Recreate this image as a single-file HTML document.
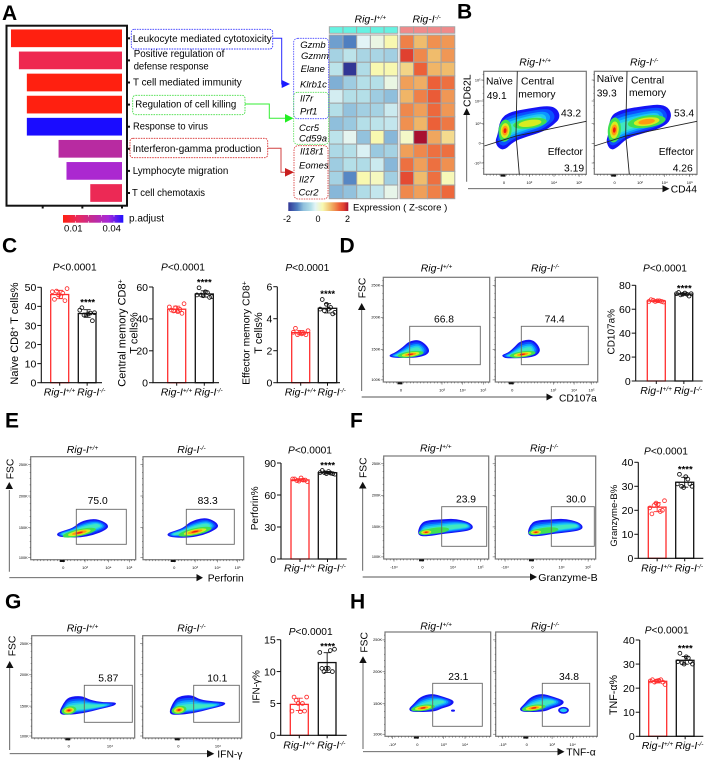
<!DOCTYPE html>
<html lang="en">
<head>
<meta charset="utf-8">
<title>Rig-I CD8 T cell figure</title>
<style>
html,body{margin:0;padding:0;background:#fff;width:705px;height:761px;overflow:hidden}
svg{display:block;filter:blur(.25px)}
text{font-family:"Liberation Sans",Arial,sans-serif;fill:#000}
.it{font-style:italic}
.letter{font-size:21px;font-weight:bold;fill:#000}
.term{font-size:10px}
.gene{font-size:9.5px;font-style:italic}
.flowtitle{font-size:10.5px;font-style:italic}
.gv{font-size:10.3px}
.axl{font-size:10.3px}
.pv{font-size:10.2px}
.yl{font-size:10.7px}
.stars{font-size:9.5px;font-weight:bold;text-anchor:middle}
.fr{fill:none;stroke:#777;stroke-width:1.2}
.gate{fill:none;stroke:#666;stroke-width:.9}
.arr{stroke:#555;stroke-width:.9;fill:none}
.head{fill:#111;stroke:none}
</style>
</head>
<body>
<svg id="figure" xmlns="http://www.w3.org/2000/svg" width="705" height="761" viewBox="0 0 705 761">
<defs>
<linearGradient id="padjGrad" x1="0" x2="1" y1="0" y2="0">
<stop offset="0" stop-color="#ff2010"/><stop offset=".25" stop-color="#e82a60"/><stop offset=".5" stop-color="#c02b98"/><stop offset=".75" stop-color="#a828d8"/><stop offset="1" stop-color="#2010ff"/>
</linearGradient>
<linearGradient id="zGrad" x1="0" x2="1" y1="0" y2="0">
<stop offset="0" stop-color="#313695"/><stop offset=".15" stop-color="#4f7fc0"/><stop offset=".25" stop-color="#8fbfdc"/><stop offset=".375" stop-color="#b4dfe8"/><stop offset=".45" stop-color="#e2f4f6"/><stop offset=".575" stop-color="#f8f8b0"/><stop offset=".7" stop-color="#f0bc6c"/><stop offset=".775" stop-color="#f09050"/><stop offset=".85" stop-color="#ec6038"/><stop offset=".925" stop-color="#e04030"/><stop offset="1" stop-color="#a81030"/>
</linearGradient>
</defs>

<!-- panel letters -->
<text class="letter" x="2" y="20">A</text>
<text class="letter" x="457" y="18.5">B</text>
<text class="letter" x="2" y="252.7">C</text>
<text class="letter" x="339.5" y="252.7">D</text>
<text class="letter" x="5" y="427.3">E</text>
<text class="letter" x="350" y="427.3">F</text>
<text class="letter" x="5" y="608.3">G</text>
<text class="letter" x="350" y="608.3">H</text>

<!-- panel A -->
<rect x="6.5" y="25.7" width="120.5" height="180" fill="none" stroke="#111" stroke-width="2"/>
<g id="enrichBars"></g>
<rect x="131.3" y="29.3" width="141.4" height="19.7" rx="3" fill="none" stroke="#3a3aff" stroke-width=".9" stroke-dasharray="1.6 1"/>
<rect x="132.7" y="95.3" width="112.3" height="19.4" rx="3" fill="none" stroke="#44dd44" stroke-width=".9" stroke-dasharray="1.6 1"/>
<rect x="130" y="138.3" width="137.7" height="19.4" rx="3" fill="none" stroke="#d83030" stroke-width=".9" stroke-dasharray="1.6 1"/>
<text class="term" x="132.7" y="42" textLength="139" lengthAdjust="spacingAndGlyphs">Leukocyte mediated cytotoxicity</text>
<text class="term" x="133.7" y="57" textLength="90.6" lengthAdjust="spacingAndGlyphs">Positive regulation of</text>
<text class="term" x="133.7" y="69.7" textLength="75" lengthAdjust="spacingAndGlyphs">defense response</text>
<text class="term" x="133" y="85.7" textLength="108.7" lengthAdjust="spacingAndGlyphs">T cell mediated immunity</text>
<text class="term" x="135.3" y="107.3" textLength="101" lengthAdjust="spacingAndGlyphs">Regulation of cell killing</text>
<text class="term" x="133" y="129.7" textLength="75" lengthAdjust="spacingAndGlyphs">Response to virus</text>
<text class="term" x="132.7" y="152" textLength="128.6" lengthAdjust="spacingAndGlyphs">Interferon-gamma production</text>
<text class="term" x="132.7" y="174" textLength="95.6" lengthAdjust="spacingAndGlyphs">Lymphocyte migration</text>
<text class="term" x="132" y="196" textLength="73" lengthAdjust="spacingAndGlyphs">T cell chemotaxis</text>
<polyline points="272.7,38.3 281.7,38.3 281.7,84 285,84" fill="none" stroke="#2a2aff" stroke-width="1"/>
<polygon points="281.7,80 281.7,88 290,84" fill="#1a1aff"/>
<polyline points="245,104 269.3,104 269.3,118.3 286,118.3" fill="none" stroke="#33ee33" stroke-width="1"/>
<polygon points="285,114 285,122.6 293.5,118.3" fill="#22ee22"/>
<polyline points="267.7,148.3 281,148.3 281,172.3 286,172.3" fill="none" stroke="#d04040" stroke-width="1"/>
<polygon points="285,168 285,176.6 294,172.3" fill="#c82020"/>
<rect x="63" y="215" width="60.3" height="7.7" fill="url(#padjGrad)"/>
<g stroke="#fff" stroke-width=".6">
<path d="M75.3 215v1.6M75.3 222.7v-1.6M88.3 215v1.6M88.3 222.7v-1.6M101.7 215v1.6M101.7 222.7v-1.6M114 215v1.6M114 222.7v-1.6"/>
</g>
<text x="129" y="221.6" font-size="10">p.adjust</text>
<text x="73.3" y="231.7" font-size="9.5" text-anchor="middle">0.01</text>
<text x="111.7" y="231.7" font-size="9.5" text-anchor="middle">0.04</text>

<!-- heatmap -->
<text class="flowtitle" x="354.5" y="22.3">Rig-I<tspan dy="-3" font-size="6.5">+/+</tspan></text>
<text class="flowtitle" x="412.5" y="22.3">Rig-I<tspan dy="-3" font-size="6.5">-/-</tspan></text>
<g id="heatmap"></g>
<rect x="293.7" y="38.3" width="35" height="80.4" rx="4" fill="none" stroke="#4040ff" stroke-width=".8" stroke-dasharray="1.5 1"/>
<rect x="293.7" y="92.3" width="35" height="52" rx="4" fill="none" stroke="#55e055" stroke-width=".8" stroke-dasharray="1.5 1"/>
<rect x="294" y="145.7" width="34" height="53.3" rx="4" fill="none" stroke="#d83030" stroke-width=".8" stroke-dasharray="1.5 1"/>
<text class="gene" x="300.3" y="47.8">Gzmb</text>
<text class="gene" x="301" y="59">Gzmm</text>
<text class="gene" x="300.6" y="71.8">Elane</text>
<text class="gene" x="300" y="87.3">Klrb1c</text>
<text class="gene" x="300" y="101.3">Il7r</text>
<text class="gene" x="300" y="114.5">Prf1</text>
<text class="gene" x="299" y="130.8">Ccr5</text>
<text class="gene" x="299" y="141.5">Cd59a</text>
<text class="gene" x="300" y="154.3">Il18r1</text>
<text class="gene" x="299" y="168.3">Eomes</text>
<text class="gene" x="299" y="182.3">Il27</text>
<text class="gene" x="298.5" y="195.3">Ccr2</text>
<rect x="288.3" y="202.3" width="60" height="8.7" fill="url(#zGrad)"/>
<text x="353" y="210.3" font-size="9.6">Expression ( Z-score )</text>
<text x="287" y="222" font-size="9" text-anchor="middle">-2</text>
<text x="318" y="222" font-size="9" text-anchor="middle">0</text>
<text x="347.5" y="222" font-size="9" text-anchor="middle">2</text>

<!-- flow frames -->
<g>
<rect class="fr" x="483.7" y="71.3" width="102.6" height="103"/>
<rect class="fr" x="594.3" y="71.3" width="102.7" height="103"/>
<rect class="fr" x="383.3" y="277.3" width="106.4" height="104.7"/>
<rect class="fr" x="495.3" y="277.3" width="102.4" height="104.7"/>
<rect class="fr" x="30.7" y="456.7" width="105" height="103"/>
<rect class="fr" x="143" y="456.7" width="100.7" height="103"/>
<rect class="fr" x="383.7" y="456" width="105" height="103"/>
<rect class="fr" x="495.3" y="456" width="100.4" height="103"/>
<rect class="fr" x="31.7" y="635.7" width="103" height="102.3"/>
<rect class="fr" x="142.7" y="635.7" width="99" height="102.3"/>
<rect class="fr" x="385" y="632" width="105.7" height="104.3"/>
<rect class="fr" x="495.7" y="632" width="101.6" height="104.3"/>
</g>
<g id="density"></g>
<g id="flowTicks"></g>

<!-- gates -->
<g>
<polyline class="gate" style="stroke:#222" points="517.3,71.3 516,135 519.3,174.3"/>
<polyline class="gate" style="stroke:#222" points="484.3,146 516,136 586.3,121.3"/>
<polyline class="gate" style="stroke:#222" points="627,71.3 625.7,135 629.3,174.3"/>
<polyline class="gate" style="stroke:#222" points="594.3,146 625.7,136 697,121.3"/>
<rect class="gate" x="409.7" y="326.3" width="70.6" height="38.4"/>
<rect class="gate" x="521.3" y="326.3" width="67" height="38.4"/>
<rect class="gate" x="76.3" y="509.3" width="50" height="35"/>
<rect class="gate" x="186.3" y="509.3" width="48" height="35"/>
<rect class="gate" x="441.7" y="506.7" width="45" height="39.6"/>
<rect class="gate" x="551.3" y="506.7" width="43" height="39.6"/>
<rect class="gate" x="84.3" y="685.3" width="48" height="37"/>
<rect class="gate" x="193.7" y="685.3" width="45.6" height="37"/>
<rect class="gate" x="432.7" y="683.3" width="49.6" height="43"/>
<rect class="gate" x="542.3" y="683.3" width="47.4" height="43"/>
</g>

<!-- flow titles -->
<text class="flowtitle" x="519.3" y="65.3">Rig-I<tspan dy="-3" font-size="6.5">+/+</tspan></text>
<text class="flowtitle" x="630" y="65.3">Rig-I<tspan dy="-3" font-size="6.5">-/-</tspan></text>
<text class="flowtitle" x="420.7" y="271.7">Rig-I<tspan dy="-3" font-size="6.5">+/+</tspan></text>
<text class="flowtitle" x="531" y="271.7">Rig-I<tspan dy="-3" font-size="6.5">-/-</tspan></text>
<text class="flowtitle" x="66.7" y="453">Rig-I<tspan dy="-3" font-size="6.5">+/+</tspan></text>
<text class="flowtitle" x="177.3" y="453">Rig-I<tspan dy="-3" font-size="6.5">-/-</tspan></text>
<text class="flowtitle" x="420" y="451.7">Rig-I<tspan dy="-3" font-size="6.5">+/+</tspan></text>
<text class="flowtitle" x="530" y="451.7">Rig-I<tspan dy="-3" font-size="6.5">-/-</tspan></text>
<text class="flowtitle" x="66.7" y="631.7">Rig-I<tspan dy="-3" font-size="6.5">+/+</tspan></text>
<text class="flowtitle" x="177.3" y="631.7">Rig-I<tspan dy="-3" font-size="6.5">-/-</tspan></text>
<text class="flowtitle" x="420.3" y="629.7">Rig-I<tspan dy="-3" font-size="6.5">+/+</tspan></text>
<text class="flowtitle" x="531" y="629.7">Rig-I<tspan dy="-3" font-size="6.5">-/-</tspan></text>

<!-- B gate text -->
<text class="gv" x="486" y="84.3">Naïve</text>
<text class="gv" x="486.7" y="99">49.1</text>
<text class="gv" x="521" y="84.3">Central</text>
<text class="gv" x="518.3" y="97.3">memory</text>
<text class="gv" x="561" y="116.3">43.2</text>
<text class="gv" x="547.7" y="155">Effector</text>
<text class="gv" x="564" y="171.3">3.19</text>
<text class="gv" x="596.7" y="82">Naïve</text>
<text class="gv" x="596.7" y="96.7">39.3</text>
<text class="gv" x="631" y="83.3">Central</text>
<text class="gv" x="629" y="96">memory</text>
<text class="gv" x="674" y="116.3">53.4</text>
<text class="gv" x="658.7" y="155">Effector</text>
<text class="gv" x="672.7" y="171.3">4.26</text>

<!-- gate values -->
<g text-anchor="middle">
<text class="gv" x="444" y="322.7">66.8</text>
<text class="gv" x="554.7" y="322.7">74.4</text>
<text class="gv" x="97.7" y="504">75.0</text>
<text class="gv" x="207.7" y="504">83.3</text>
<text class="gv" x="466" y="502.3">23.9</text>
<text class="gv" x="576" y="502.3">30.0</text>
<text class="gv" x="108.3" y="681.7">5.87</text>
<text class="gv" x="217.3" y="681.7">10.1</text>
<text class="gv" x="458.3" y="680">23.1</text>
<text class="gv" x="569" y="680">34.8</text>
</g>

<!-- flow axis arrows -->
<g>
<path class="arr" d="M466.7 181.7V114M468 188.7H663"/>
<polygon class="head" points="463.2,115 470.2,115 466.7,108"/>
<polygon class="head" points="662.5,185.2 662.5,192.2 669.5,188.7"/>
<path class="arr" d="M361.7 391V308M361.7 397H547"/>
<polygon class="head" points="358,310 365.5,310 361.7,303"/>
<polygon class="head" points="546.5,393.5 546.5,400.5 553,397"/>
<path class="arr" d="M9.3 571.7V490M9.3 577.7H197"/>
<polygon class="head" points="5.5,489 13,489 9.3,482"/>
<polygon class="head" points="196.5,574 196.5,581.3 203,577.7"/>
<path class="arr" d="M362.7 570.7V488M362.7 577H530"/>
<polygon class="head" points="359,488.5 366.5,488.5 362.7,481.7"/>
<polygon class="head" points="530,573.4 530,580.6 537,577"/>
<path class="arr" d="M9.7 750V668M9.7 753.7H207.5"/>
<polygon class="head" points="6,668 13.5,668 9.7,661"/>
<polygon class="head" points="207,750 207,757.4 214.3,753.7"/>
<path class="arr" d="M363 749V663M363 751.7H558"/>
<polygon class="head" points="359.3,663 366.7,663 363,656.3"/>
<polygon class="head" points="557.5,748 557.5,755.4 564.5,751.7"/>
</g>
<text x="470.7" y="90.7" transform="rotate(-90 470.7 90.7)" text-anchor="middle" font-size="10.5">CD62L</text>
<text x="670.7" y="192.7" class="axl">CD44</text>
<text x="365.7" y="288" transform="rotate(-90 365.7 288)" text-anchor="middle" class="axl">FSC</text>
<text x="559" y="401.5" class="axl">CD107a</text>
<text x="13.7" y="469" transform="rotate(-90 13.7 469)" text-anchor="middle" class="axl">FSC</text>
<text x="207.7" y="581.5" class="axl">Perforin</text>
<text x="366.5" y="467.7" transform="rotate(-90 366.5 467.7)" text-anchor="middle" class="axl">FSC</text>
<text x="538.3" y="581" class="axl" textLength="59.4" lengthAdjust="spacingAndGlyphs">Granzyme-B</text>
<text x="15.4" y="646" transform="rotate(-90 15.4 646)" text-anchor="middle" class="axl">FSC</text>
<text x="217.3" y="757.5" class="axl">IFN-γ</text>
<text x="367.7" y="642.3" transform="rotate(-90 367.7 642.3)" text-anchor="middle" class="axl">FSC</text>
<text x="566.3" y="755.5" class="axl">TNF-α</text>

<!-- bar chart annotations -->
<g>
<text class="pv" x="74.7" y="270.7" text-anchor="middle"><tspan class="it">P</tspan>&lt;0.0001</text>
<text class="pv" x="183" y="270.7" text-anchor="middle"><tspan class="it">P</tspan>&lt;0.0001</text>
<text class="pv" x="307.3" y="271" text-anchor="middle"><tspan class="it">P</tspan>&lt;0.0001</text>
<text class="pv" x="665" y="271.7" text-anchor="middle"><tspan class="it">P</tspan>&lt;0.0001</text>
<text class="pv" x="310" y="453.7" text-anchor="middle"><tspan class="it">P</tspan>&lt;0.0001</text>
<text class="pv" x="666" y="454.7" text-anchor="middle"><tspan class="it">P</tspan>&lt;0.0001</text>
<text class="pv" x="310.7" y="635" text-anchor="middle"><tspan class="it">P</tspan>&lt;0.0001</text>
<text class="pv" x="666.7" y="633.3" text-anchor="middle"><tspan class="it">P</tspan>&lt;0.0001</text>

<text class="stars" x="87.7" y="305.4">****</text>
<text class="stars" x="204.3" y="285.4">****</text>
<text class="stars" x="327.7" y="297">****</text>
<text class="stars" x="684.3" y="291.4">****</text>
<text class="stars" x="327.7" y="468.7">****</text>
<text class="stars" x="685.3" y="472.7">****</text>
<text class="stars" x="327.7" y="649.4">****</text>
<text class="stars" x="685.3" y="651.4">****</text>

<text x="18" y="333.5" transform="rotate(-90 18 333.5)" text-anchor="middle" font-size="11">Naïve CD8<tspan dy="-3" font-size="7">+</tspan><tspan dy="3"> T cells%</tspan></text>
<text x="125.4" y="333" transform="rotate(-90 125.4 333)" text-anchor="middle" font-size="11">Central memory CD8<tspan dy="-3" font-size="7">+</tspan></text>
<text x="137.7" y="333" transform="rotate(-90 137.7 333)" text-anchor="middle" font-size="11">T cells%</text>
<text x="249.4" y="333" transform="rotate(-90 249.4 333)" text-anchor="middle" font-size="10.4">Effector memory CD8<tspan dy="-3" font-size="7">+</tspan></text>
<text x="262" y="333" transform="rotate(-90 262 333)" text-anchor="middle" font-size="11">T cells%</text>
<text x="614.7" y="331.7" transform="rotate(-90 614.7 331.7)" text-anchor="middle" font-size="10">CD107a%</text>
<text x="258" y="508.3" transform="rotate(-90 258 508.3)" text-anchor="middle" font-size="10">Perforin%</text>
<text x="617" y="515.7" transform="rotate(-90 617 515.7)" text-anchor="middle" font-size="9.5">Granzyme-B%</text>
<text x="259.7" y="686.7" transform="rotate(-90 259.7 686.7)" text-anchor="middle" font-size="10">IFN-γ%</text>
<text x="617" y="695" transform="rotate(-90 617 695)" text-anchor="middle" font-size="10.7">TNF-α%</text>
</g>
<g id="barCharts"></g>
</svg>

<script>
/* ---------- Panel A data ---------- */
const geneCounts = [14, 13, 12, 12, 12, 8, 7, 4];
const pAdjust = [0.002, 0.0077, 0.002, 0.002, 0.049, 0.028, 0.035, 0.0095];
const geneCountTicks = [10, 5, 0];

/* ---------- Heatmap data ---------- */
const heatGenes = ['Gzmb','Gzmm','Elane','Klrb1c','Il7r','Prf1','Ccr5','Cd59a','Il18r1','Eomes','Il27','Ccr2'];
const heatWT = [
  [-1.2,-1.4,-0.2,-0.05,0.3],
  [-0.7,-0.45,-0.65,-0.65,-0.75],
  [-0.45,-2,-0.55,0.3,0.3],
  [-1.1,-0.8,-0.5,-0.5,-0.05],
  [-0.3,-0.5,-0.5,-0.8,-1.0],
  [-0.5,-0.95,-0.75,-0.7,-0.35],
  [-1.0,-0.85,-0.5,-0.45,-0.4],
  [-0.45,-0.15,-0.95,0.3,-1.05],
  [-0.6,-0.5,-0.25,-0.85,-0.7],
  [-0.8,-0.5,-0.55,-0.35,-1.05],
  [-0.7,-1.35,0.3,0.2,-0.75],
  [-1.05,-0.95,-0.55,-0.4,-0.1]
];
const heatKO = [
  [1.2,0.8,1.1,1.05],
  [1.7,1.15,0.8,1.05],
  [0.6,1.4,0.85,0.8],
  [1.0,0.9,1.4,1.3],
  [0.85,1.2,1.45,1.05],
  [1.15,1.0,1.35,1.05],
  [1.1,0.85,1.4,1.25],
  [0.15,2,0.95,0.55],
  [1.0,1.15,1.3,1.3],
  [1.3,1.0,1.3,1.1],
  [1.6,0.8,1.3,0.25],
  [1.15,1.0,1.2,1.35]
];

/* ---------- Bar chart data ---------- */
const barCategories = ['+/+', '-/-'];
const naiveWT = [47.7,46.9,48,49.3,45.1,43.7,43,46];
const naiveKO = [38,36.5,35.5,36.7,36,39.3,32.5,35.5];
const naiveTicks = [0,10,20,30,40,50];
const centralWT = [47.5,46,45,49.5,44.5,45.5,43.5,47];
const centralKO = [55,56.5,55,54,57,59.5,53.5,54.5];
const centralTicks = [0,20,40,60];
const effectorWT = [3.15,3.1,3,3.25,3.05,3.4,3,3.1];
const effectorKO = [4.6,4.7,4.5,4.4,4.6,5.2,4.3,4.9];
const effectorTicks = [0,2,4,6];
const cd107WT = [66.5,67,67.5,66,67,68,66.5,66.5];
const cd107KO = [73,72.5,72,73,73.5,74,71,72.5];
const cd107Ticks = [0,20,40,60,80];
const perforinWT = [75,74,73.5,72.5,76,75,74,73];
const perforinKO = [81,80.5,81,79.5,82,83,80,80];
const perforinTicks = [0,30,60,90];
const granzymeWT = [21,19.5,22,24,22.5,18.5,20,23];
const granzymeKO = [31,33,30,30,34,35,31,29.5];
const granzymeTicks = [0,10,20,30,40];
const ifnWT = [3.8,5,5.5,6,3.7,6,3.8,5];
const ifnKO = [13,13.3,10,13.5,10.5,10.5,10,10.5];
const ifnTicks = [0,5,10,15];
const tnfWT = [23,23.5,22.5,21.5,23.2,23.5,22.5,23];
const tnfKO = [31,32.5,30.5,30,33,34.5,31,30];
const tnfTicks = [0,10,20,30,40];

/* ---------- Flow density outlines, in plot-percent units ---------- */
const densityB1 = {o:[[13.6,61.8],[15.9,47.2],[24,39.8],[45.1,35.9],[64.6,33],[72.7,37.5],[74.4,45.6],[67.9,52.1],[58.1,58.6],[41.9,63.4],[28.9,68.3],[20.8,76.4],[14.3,74.8],[11,68.3]],s:[[20.8,57.6],[50,48]],h:[[45.1,50.5,17,5,-8,2],[20.8,57.6,6.5,11,5,4]]};
const densityB2 = {o:[[13.6,61.8],[15.3,44],[25,37.5],[47.7,33.7],[67.2,31.7],[75.3,39.2],[73.7,48.9],[64,55.3],[47.7,60.2],[31.5,65],[21.8,74.8],[15.3,76.4],[11.4,68.3]],s:[[19.5,57],[55,47]],h:[[51,48.9,19,6,-8,3],[19.5,57,6.5,12.5,5,4]]};
const densityD1 = {o:[[5.6,74.2],[11,72],[18.8,66.2],[23.5,61.5],[32.9,59.2],[40.8,64.6],[43.9,71],[39.2,75.2],[28.2,77.1],[12.5,77.1],[6.3,76.1]],s:[[14.1,74.5],[32,69.4]],h:[[25.7,73.6,13,3,-8,4]]};
const densityD2 = {o:[[6.5,74.2],[12.7,72],[19.2,66.2],[24.1,60.8],[35.5,58.9],[42,64.6],[44.3,71],[38.8,75.8],[25.7,77.4],[11.1,77.4],[7.2,76.1]],s:[[15,74.5],[33.2,69.4]],h:[[26.7,73.6,13,3,-8,4]]};
const densityE1 = {o:[[24.8,74.4],[31.1,71.8],[40.6,68.9],[47,63.1],[59.7,59.9],[69.2,62.5],[74.6,67],[71.7,71.2],[59.7,76.1],[47,78.6],[31.1,78.3],[25.4,77]],s:[[32.7,75],[62.9,67]],h:[[46.3,73.8,17,3.5,-12,4]]};
const densityE2 = {o:[[24.2,74.4],[31.8,71.8],[40.1,68.9],[46.7,63.1],[59.9,58.9],[69.9,61.5],[75.8,67],[71.5,71.2],[59.9,76.1],[46.7,78.6],[30.1,78.6],[24.5,77]],s:[[32.5,75],[63.2,67]],h:[[51.7,72.8,17,3.5,-12,4]]};
const densityF1 = {o:[[32.4,73.5],[34.6,67],[39.4,62.5],[55.2,61.5],[67.9,60.8],[80.6,63.8],[86,68.6],[82.2,72.8],[58.4,75.4],[39.4,78.3],[33.7,77.3]],s:[[38.7,73.5],[77.5,67.6]],h:[[50,72.4,13,3,-6,1],[40.5,74,7.5,2.8,-5,4]]};
const densityF2 = {o:[[32.2,73.5],[34.6,67],[39.5,62.5],[56.1,61.5],[69.4,60.8],[82.7,63.8],[88,68.6],[84.4,72.8],[59.5,75.4],[39.5,78.3],[33.6,77.3]],s:[[39,73.5],[79.4,67.6]],h:[[50,72.4,13,3,-6,1],[40.5,74,7.5,2.8,-5,4]]};
const densityG1 = {o:[[26.9,73.6],[30.7,66.1],[35.6,59.9],[48.5,58.6],[56.6,62.9],[69.6,65.1],[82.5,65.1],[80.9,68.4],[66.3,71.7],[50.2,75.9],[34,77.5],[28.2,76.9]],s:[[35.6,71.7],[66.3,68.4]],h:[[36.2,73,7.5,4,-10,4]]};
const densityG2 = {o:[[26.9,73.6],[31,64.5],[36,59.3],[49.5,57.7],[57.9,62.5],[71.4,64.2],[84.2,65.1],[82.2,68.4],[68,71.7],[51.2,75.9],[34.3,77.5],[28.3,76.9]],s:[[36,71.7],[68,68.4]],h:[[36.7,72.6,7.5,4,-10,4]]};
const densityH1 = {o:[[22.1,73.8],[26.8,69.3],[33.1,62],[44.2,58.8],[55.2,62],[66.2,66.1],[63.1,70.6],[53.6,73.2],[47.3,76.4],[25.2,77]],s:[[30,73.2],[52,66.8]],h:[[36,72.8,12,3,-8,4]]};
const densityH2 = {o:[[23,73.8],[27.9,69.3],[34.4,62],[45.2,58.8],[56.7,62],[68.2,66.1],[65,70.6],[55.1,73.2],[48.5,76.4],[26.2,77]],s:[[31.1,73.2],[53.4,66.8]],h:[[37.5,72.8,12,3,-8,4]]};

/* ---------- Flow tick labels ---------- */
const fscLabels = ['250K','200K','150K','100K'];
const cd62Labels = ['10⁵','10⁴','10³','0','-10³'];
const cd44Labels = ['0','10²','10⁴','10⁵'];
const cd107Labels = ['0','10³','10⁴','10⁵'];
const perforinLabels = ['0','10³','10⁴','10⁵'];
const granzymeLabels = ['-10⁴','0','10⁴','10⁵'];
const ifnLabels = ['0','10⁴'];
const tnfLabels = ['-10³','0','10³','10⁴'];

/* ---------- helpers ---------- */
const SVGNS = 'http://www.w3.org/2000/svg';
function mk(tag, parent, attrs) {
  const el = document.createElementNS(SVGNS, tag);
  for (const k in attrs) el.setAttribute(k, attrs[k]);
  parent.appendChild(el);
  return el;
}
function rgb(h){return [parseInt(h.slice(1,3),16),parseInt(h.slice(3,5),16),parseInt(h.slice(5,7),16)];}
function ramp(stops, v){
  if (v <= stops[0][0]) return stops[0][1];
  for (let i = 1; i < stops.length; i++) {
    if (v <= stops[i][0]) {
      const t = (v - stops[i-1][0]) / (stops[i][0] - stops[i-1][0]);
      const a = rgb(stops[i-1][1]), b = rgb(stops[i][1]);
      return 'rgb(' + a.map((c,j)=>Math.round(c+(b[j]-c)*t)).join(',') + ')';
    }
  }
  return stops[stops.length-1][1];
}

/* ---------- Panel A ---------- */
const padjStops = [[0,'#ff2010'],[.12,'#ee2850'],[.25,'#e82a60'],[.55,'#b82ba0'],[.7,'#ac28d0'],[1,'#1a0cff']];
const xCount = v => 122 - v * 7.93;
const yTerm = i => 38.3 + i * 22.1;
const enrich = document.getElementById('enrichBars');
geneCounts.forEach((v, i) => {
  const bar = mk('rect', enrich, {x: xCount(v), y: yTerm(i) - 8.85, width: xCount(0) - xCount(v), height: 17.7, fill: ramp(padjStops, (pAdjust[i] - 0.002) / 0.047)});
  
  
  const tick = mk('rect', enrich, {x: 127.5, y: yTerm(i) - 1, width: 2.5, height: 2, fill: '#111'});
  
  
});
geneCountTicks.forEach((v, i) => {
  const tick = mk('rect', enrich, {x: xCount(v) - 1, y: 206, width: 2, height: 2.5, fill: '#111'});
  
  
});

/* ---------- Heatmap ---------- */
const zStops = [[-2,'#313695'],[-1.4,'#4f7fc0'],[-1,'#8fbfdc'],[-.5,'#b4dfe8'],[-.2,'#e2f4f6'],[.1,'#f2f8d0'],[.3,'#f8f8b0'],[.8,'#f0bc6c'],[1.1,'#f09050'],[1.4,'#ec6038'],[1.7,'#e04030'],[2,'#a81030']];
const heat = document.getElementById('heatmap');
function heatGroup(x0, values, groupName, annColor) {
  const cw = 13.7, rh = 13.64, y0 = 35;
  values[0].forEach((_, c) => {
    const ann = mk('rect', heat, {x: x0 + c * cw, y: 26.7, width: cw, height: 6.6, fill: annColor, stroke: '#a3a3a3', 'stroke-width': .9});
    
    
  });
  values.forEach((row, r) => row.forEach((v, c) => {
    const cell = mk('rect', heat, {x: x0 + c * cw, y: y0 + r * rh, width: cw, height: rh, fill: ramp(zStops, v), stroke: '#a3a3a3', 'stroke-width': 1});
    
    
  }));
}
heatGroup(329.3, heatWT, 'wt', '#66f2e2');
heatGroup(400, heatKO, 'ko', '#f08a8a');

/* ---------- Flow density ---------- */
const contourColors = ['#1414f5','#0a50ff','#0a98ff','#20cbf0','#40e8c0'];
const contourShrink = [0,.2,.38,.54,.7];
const hotColors = ['#40e050','#d8ec20','#ff9a10','#f01a10'];
const hotScale = [1,.68,.44,.22];
function nearOnSeg(p,a,b){
  const dx=b[0]-a[0],dy=b[1]-a[1];
  let t=((p[0]-a[0])*dx+(p[1]-a[1])*dy)/(dx*dx+dy*dy);
  t=Math.max(0,Math.min(1,t));
  return [a[0]+t*dx,a[1]+t*dy];
}
function smooth(pts){
  const n=pts.length, mid=(a,b)=>[(a[0]+b[0])/2,(a[1]+b[1])/2];
  let m=mid(pts[n-1],pts[0]), d='M'+m[0].toFixed(1)+' '+m[1].toFixed(1);
  for(let i=0;i<n;i++){
    const q=mid(pts[i],pts[(i+1)%n]);
    d+='Q'+pts[i][0].toFixed(1)+' '+pts[i][1].toFixed(1)+' '+q[0].toFixed(1)+' '+q[1].toFixed(1);
  }
  return d+'Z';
}
const densityLayer = document.getElementById('density');
function drawDensity(name, fx0, fy0, fx1, fy1, shape) {
  const sx = v => fx0 + v / 100 * (fx1 - fx0);
  const sy = v => fy0 + v / 100 * (fy1 - fy0);
  const g = mk('g', densityLayer, {});
  
  
  contourShrink.forEach((t, l) => {
    const pts = shape.o.map(p => {
      const n = nearOnSeg(p, shape.s[0], shape.s[1]);
      return [sx(p[0] + (n[0] - p[0]) * t), sy(p[1] + (n[1] - p[1]) * t)];
    });
    const path = mk('path', g, {d: smooth(pts), fill: contourColors[l]});
    
    
  });
  shape.h.forEach((h, k) => {
    for (let l = 0; l < h[5]; l++) {
      const e = mk('ellipse', g, {cx: sx(h[0]), cy: sy(h[1]), rx: h[2] * hotScale[l], ry: h[3] * hotScale[l], fill: hotColors[l], transform: 'rotate(' + h[4] + ' ' + sx(h[0]) + ' ' + sy(h[1]) + ')'});
      
      
    }
  });
}
drawDensity('b-wt',483.7,71.3,586.3,174.3,densityB1);
drawDensity('b-ko',594.3,71.3,697,174.3,densityB2);
drawDensity('d-wt',383.3,277.3,489.7,382,densityD1);
drawDensity('d-ko',495.3,277.3,597.7,382,densityD2);
drawDensity('e-wt',30.7,456.7,135.7,559.7,densityE1);
drawDensity('e-ko',143,456.7,243.7,559.7,densityE2);
drawDensity('f-wt',383.7,456,488.7,559,densityF1);
drawDensity('f-ko',495.3,456,595.7,559,densityF2);
drawDensity('g-wt',31.7,635.7,134.7,738,densityG1);
drawDensity('g-ko',142.7,635.7,241.7,738,densityG2);
drawDensity('h-wt',385,632,490.7,736.3,densityH1);
drawDensity('h-ko',495.7,632,597.3,736.3,densityH2);
const extraH1 = mk('ellipse', densityLayer, {cx: 453, cy: 710.6, rx: 2, ry: 1.1, fill: '#1414f5'});


const extraH2 = mk('ellipse', densityLayer, {cx: 563.5, cy: 710.3, rx: 5.4, ry: 3.4, fill: '#1414f5'});


const extraH2b = mk('ellipse', densityLayer, {cx: 563.5, cy: 710.3, rx: 3.6, ry: 1.9, fill: '#20cbf0'});



/* ---------- Flow ticks ---------- */
const tickLayer = document.getElementById('flowTicks');
function drawFlowTicks(name, fx0, fy0, fx1, fy1, yPct, yLabels, xPct, xLabels, zeroPct, showY) {
  const w = fx1 - fx0, h = fy1 - fy0;
  const g = mk('g', tickLayer, {});
  
  
  let d = '';
  for (let p = 3; p < 100; p += 3.2) d += 'M' + (fx0 + p / 100 * w).toFixed(1) + ' ' + fy1 + 'v1.4';
  for (let p = 3; p < 100; p += 6.1) d += 'M' + fx0 + ' ' + (fy0 + p / 100 * h).toFixed(1) + 'h-1';
  xPct.forEach(p => { d += 'M' + (fx0 + p / 100 * w).toFixed(1) + ' ' + fy1 + 'v2.6'; });
  yPct.forEach(p => { d += 'M' + fx0 + ' ' + (fy0 + p / 100 * h).toFixed(1) + 'h-2.6'; });
  const ticks = mk('path', g, {d: d, stroke: '#444', 'stroke-width': .5, fill: 'none'});
  
  
  const smudge = mk('rect', g, {x: fx0 + zeroPct / 100 * w - 3.5, y: fy1 + .3, width: 5, height: 2, fill: '#111'});
  
  
  xLabels.forEach((t, i) => {
    const lab = mk('text', g, {x: fx0 + xPct[i] / 100 * w, y: fy1 + 9.5, 'font-size': 4, 'text-anchor': 'middle'});
    lab.textContent = t;
    
    
  });
  if (showY) yLabels.forEach((t, i) => {
    const lab = mk('text', g, {x: fx0 - 3, y: fy0 + yPct[i] / 100 * h + 1.3, 'font-size': 3.8, 'text-anchor': 'end'});
    lab.textContent = t;
    
    
  });
}
const fscPct = [7.6,38.2,68.8,98];
drawFlowTicks('b-wt',483.7,71.3,586.3,174.3,[8.4,28.8,50.8,70,89],cd62Labels,[19.8,44.5,68.5,93],cd44Labels,19.8,true);
drawFlowTicks('b-ko',594.3,71.3,697,174.3,[8.4,28.8,50.8,70,89],cd62Labels,[19.8,44.5,68.5,93],cd44Labels,19.8,false);
drawFlowTicks('d-wt',383.3,277.3,489.7,382,fscPct,fscLabels,[16.6,55.2,74.6,94],cd107Labels,16.6,true);
drawFlowTicks('d-ko',495.3,277.3,597.7,382,fscPct,fscLabels,[16.6,56.7,77,94],cd107Labels,16.6,false);
drawFlowTicks('e-wt',30.7,456.7,135.7,559.7,fscPct,fscLabels,[31,51.7,74,94],perforinLabels,31,true);
drawFlowTicks('e-ko',143,456.7,243.7,559.7,fscPct,fscLabels,[31,51.7,74,94],perforinLabels,31,false);
drawFlowTicks('f-wt',383.7,456,488.7,559,fscPct,fscLabels,[9.8,37,66,92.4],granzymeLabels,37,true);
drawFlowTicks('f-ko',495.3,456,595.7,559,fscPct,fscLabels,[9.8,37,66,92.4],granzymeLabels,37,false);
drawFlowTicks('g-wt',31.7,635.7,134.7,738,fscPct,fscLabels,[36,76],ifnLabels,36,true);
drawFlowTicks('g-ko',142.7,635.7,241.7,738,fscPct,fscLabels,[36,76],ifnLabels,36,false);
drawFlowTicks('h-wt',385,632,490.7,736.3,fscPct,fscLabels,[7,30.6,55.5,75.7],tnfLabels,30.6,true);
drawFlowTicks('h-ko',495.7,632,597.3,736.3,fscPct,fscLabels,[7,30.6,55.5,75.7],tnfLabels,30.6,false);

/* ---------- Bar charts ---------- */
const barLayer = document.getElementById('barCharts');
function mean(a){return a.reduce((s,v)=>s+v,0)/a.length;}
function sd(a){const m=mean(a);return Math.sqrt(a.reduce((s,v)=>s+(v-m)*(v-m),0)/(a.length-1));}
function drawBarChart(name, axisX, y0, yTop, right, b1, b2, labelY, ticks, wt, ko) {
  const yMax = ticks[ticks.length - 1];
  const yScale = v => y0 - v / yMax * (y0 - yTop);
  const g = mk('g', barLayer, {});
  
  
  const groups = [wt, ko], colors = ['#ff2e2e', '#111111'], spans = [b1, b2], labelOffsets = [-16, -10];
  groups.forEach((vals, gi) => {
    const col = colors[gi], m = mean(vals), s = sd(vals), cx = (spans[gi][0] + spans[gi][1]) / 2;
    const bar = mk('rect', g, {x: spans[gi][0], y: yScale(m), width: spans[gi][1] - spans[gi][0], height: y0 - yScale(m), fill: '#fff', stroke: col, 'stroke-width': 1.3});
    
    
    const err = mk('path', g, {d: 'M' + cx + ' ' + yScale(m + s) + 'V' + yScale(m - s) + 'M' + (cx - 3.5) + ' ' + yScale(m + s) + 'h7M' + (cx - 3.5) + ' ' + yScale(m - s) + 'h7', stroke: col, 'stroke-width': .9, fill: 'none'});
    
    
    vals.forEach((v, i) => {
      const pt = mk('circle', g, {cx: cx + ((i * 5) % 8 - 3.5) * 2.1, cy: yScale(v), r: 1.9, fill: 'none', stroke: col, 'stroke-width': .85});
      
      
    });
    const xt = mk('line', g, {x1: cx, x2: cx, y1: y0, y2: y0 + 3, stroke: '#111', 'stroke-width': 1});
    
    
    const lab = mk('text', g, {x: cx + labelOffsets[gi], y: labelY, 'font-size': 10.5, 'font-style': 'italic'});
    
    
    lab.appendChild(document.createTextNode('Rig-I'));
    const sup = mk('tspan', lab, {dy: -3, 'font-size': 6.5});
    sup.textContent = barCategories[gi];
  });
  const axes = mk('path', g, {d: 'M' + axisX + ' ' + yTop + 'V' + y0 + 'H' + right, stroke: '#111', 'stroke-width': 1.1, fill: 'none'});
  
  
  ticks.forEach((t, i) => {
    const tk = mk('line', g, {x1: axisX - 4, x2: axisX, y1: yScale(t), y2: yScale(t), stroke: '#111', 'stroke-width': 1});
    
    
    const lab = mk('text', g, {x: axisX - 5, y: yScale(t) + 3.8, 'font-size': 10.5, 'text-anchor': 'end'});
    lab.textContent = t;
    
    
  });
}
drawBarChart('naive',41.3,382.7,287.3,102,[50.7,68.7],[78.3,96],395.7,naiveTicks,naiveWT,naiveKO);
drawBarChart('central-memory',153,382.7,287,219,[167.7,185.7],[195.3,213.3],395.7,centralTicks,centralWT,centralKO);
drawBarChart('effector-memory',277.3,382.7,286.7,340,[291.7,309.7],[318.3,336.7],395.7,effectorTicks,effectorWT,effectorKO);
drawBarChart('cd107a',635.7,381,285.3,702.7,[647.3,665.3],[675,692.7],394,cd107Ticks,cd107WT,cd107KO);
drawBarChart('perforin',281,559,463,346.7,[291,309],[318.3,336.7],571.7,perforinTicks,perforinWT,perforinKO);
drawBarChart('granzyme',638.3,558.3,462.3,703.3,[648.3,666],[675.7,693.7],571.7,granzymeTicks,granzymeWT,granzymeKO);
drawBarChart('ifn-gamma',280.7,735.3,639.7,346.7,[290.3,308.3],[318.3,336],748.3,ifnTicks,ifnWT,ifnKO);
drawBarChart('tnf-alpha',639.7,736.3,640,703.3,[648.7,666.7],[676.3,694],749,tnfTicks,tnfWT,tnfKO);
</script>
</body>
</html>
